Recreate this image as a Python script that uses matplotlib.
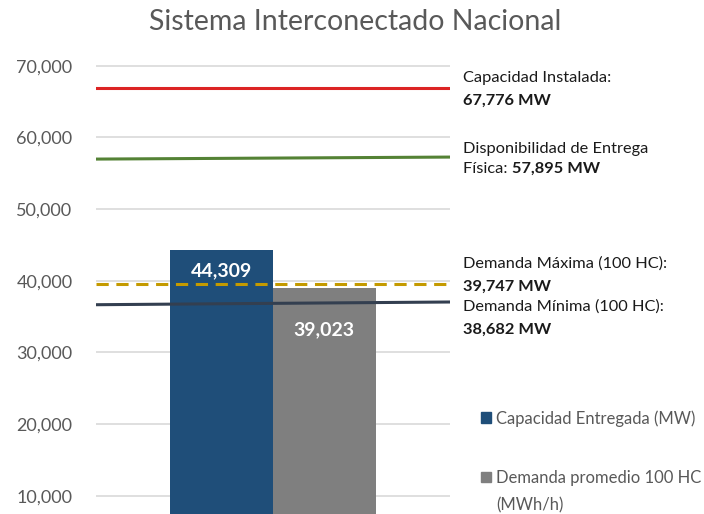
import matplotlib.pyplot as plt
from matplotlib.patches import Patch
from matplotlib.text import Annotation

plt.rcParams['font.family'] = ['Lato', 'DejaVu Sans']

# bars
bar_names = ["Capacidad Entregada (MW)", "Demanda promedio 100 HC"]
bar_name_extra = "(MWh/h)"
bar_values = [44309, 39023]
bar_labels = ["44,309", "39,023"]
bar_colors = ["#1F4E79", "#7F7F7F"]

# reference lines (level read at left and right edge of the plot)
line_left = [66850, 56970, 39560, 36650]
line_right = [66850, 57250, 39560, 37030]
line_colors = ["#DC2424", "#548235", "#C49A00", "#333F50"]
line_styles = ["-", "-", (0, (4, 2.5)), "-"]
line_titles = ["Capacidad Instalada:", "Disponibilidad de Entrega",
               "Demanda Máxima (100 HC):", "Demanda Mínima (100 HC):"]
line_values = ["67,776 MW", "57,895 MW", "39,747 MW", "38,682 MW"]

yticks = [10000, 20000, 30000, 40000, 50000, 60000, 70000]

fig = plt.figure(figsize=(7.04, 5.14), dpi=100)
ax = fig.add_axes([96/704, 0, 354/704, (514-40)/514])
ax.set_xlim(-1.725, 1.725)
ax.set_ylim(7450, 73585)

xs = [-0.5, 0.5]
bars = ax.bar(xs, bar_values, width=1.0, color=bar_colors, zorder=2)

# value labels inside the bars
label_drop = [2900, 5900]
for x, v, lab, d in zip(xs, bar_values, bar_labels, label_drop):
    ax.text(x, v - d, lab, ha='center', va='center', color='white',
            fontsize=14, fontweight='bold', zorder=4)

for yl, yr, c, ls in zip(line_left, line_right, line_colors, line_styles):
    ax.plot([-1.725, 1.725], [yl, yr], color=c, lw=2.2, linestyle=ls, zorder=3)

ax.set_yticks(yticks)
ax.set_yticklabels([f"{t:,}" for t in yticks])
ax.set_xticks([])
ax.tick_params(axis='y', length=0, labelsize=13, labelcolor='#595959', pad=17)
ax.grid(axis='y', color='#D9D9D9', lw=1.2, zorder=0)
for s in ax.spines.values():
    s.set_visible(False)

fig.text(0.505, 0.957, "Sistema Interconectado Nacional", ha='center', va='center',
         fontsize=20.5, color='#595959')

# annotations on the right
tx = 463/704
fs = 11.8
title_y = [78, 149, 264, 307]
value_y = [101, 169, 287, 330]
for i in range(4):
    fig.text(tx, 1 - title_y[i]/514, line_titles[i], ha='left',
             va='center', fontsize=fs, color='#1A1A1A')
    if i == 1:
        t = fig.text(tx, 1 - value_y[i]/514, "Física: ", ha='left',
                     va='center', fontsize=fs, color='#1A1A1A')
        ax.annotate(line_values[i], xy=(1, 0.5), xycoords=t, ha='left',
                    va='center', fontsize=fs, fontweight='bold', color='#1A1A1A')
    else:
        fig.text(tx, 1 - value_y[i]/514, line_values[i], ha='left',
                 va='center', fontsize=fs, fontweight='bold', color='#1A1A1A')

handles = [Patch(color=c) for c in bar_colors]
leg = fig.legend(handles, bar_names, loc='upper left',
                 bbox_to_anchor=(466/704, 1 - 395/514),
                 frameon=False, fontsize=12, labelcolor='#595959', handlelength=0.6,
                 handleheight=0.6, handletextpad=0.3, labelspacing=2.6)
# second line of the grey entry, drawn after the legend
extra = Annotation(bar_name_extra, xy=(0, 0), xycoords=leg.get_texts()[1],
                   xytext=(0, -8), textcoords='offset points', ha='left', va='top',
                   fontsize=12, color='#595959', zorder=10)
fig.add_artist(extra)

fig.savefig("out.png")
